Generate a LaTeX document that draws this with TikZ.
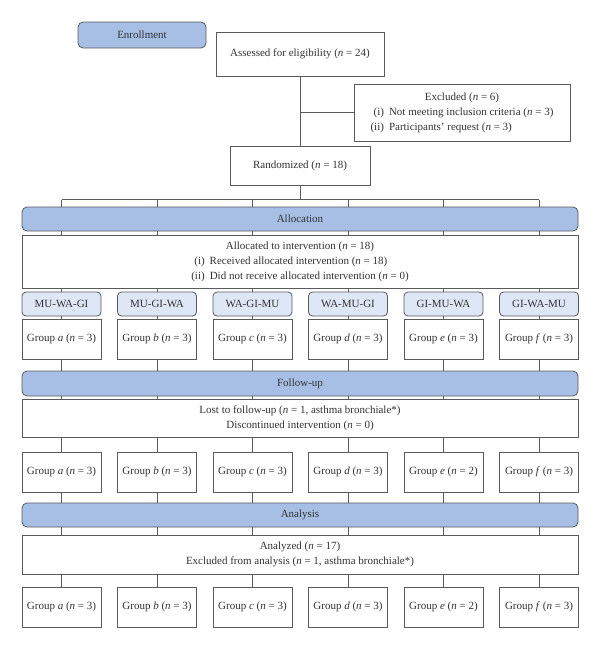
\documentclass[tikz,border=0pt]{standalone}
\usepackage{fontspec}
\setmainfont{Liberation Serif}
\definecolor{barblue}{RGB}{167,191,228}
\definecolor{seqblue}{RGB}{221,231,245}
\definecolor{edge}{RGB}{90,90,90}
\newcommand{\ncount}[1]{(\textit{n} = #1)}
\newcommand{\grp}[2]{Group \textit{#1} \ncount{#2}}
\begin{document}
\begin{tikzpicture}[x=1pt, y=-1pt, font=\fontsize{11}{15.3}\selectfont, text=black!80,
  box/.style={draw=edge, fill=white, line width=.8pt, inner sep=0pt, align=center},
  bar/.style={box, fill=barblue, rounded corners=5pt, minimum width=556pt, minimum height=24pt},
  seqbox/.style={box, fill=seqblue, rounded corners=4pt, minimum width=79pt, minimum height=24pt},
  grpbox/.style={box, minimum width=79pt, minimum height=40pt},
  wide/.style={box, minimum width=556pt},
  link/.style={draw=edge, line width=.8pt}]
\useasboundingbox (0,0) rectangle (600,648);
\node[bar, minimum width=128pt, minimum height=26pt] (enrol) at (142,35) {Enrollment};
\node[box, minimum width=168pt, minimum height=44pt] (assess) at (300,54) {Assessed for eligibility \ncount{24}};
\node[box, minimum width=216pt, minimum height=57pt] (excl) at (462,112.5)
  {\begin{tabular}{@{}r@{\hspace{5pt}}l@{}}\multicolumn{2}{c}{Excluded \ncount{6}}\\
   (i) & Not meeting inclusion criteria \ncount{3}\\
   (ii) & Participants' request \ncount{3}\end{tabular}};
\node[box, minimum width=140pt, minimum height=39pt] (rand) at (300,165.5) {Randomized \ncount{18}};
\node[bar, minimum height=24pt] (alloc) at (300,219) {Allocation};
\node[wide, minimum height=53pt] (allot) at (300,261.5)
  {\begin{tabular}{@{}r@{\hspace{5pt}}l@{}}\multicolumn{2}{c}{Allocated to intervention \ncount{18}}\\
   (i) & Received allocated intervention \ncount{18}\\
   (ii) & Did not receive allocated intervention \ncount{0}\end{tabular}};
\node[bar, minimum height=25pt] (follow) at (300,383.5) {Follow-up};
\node[wide, minimum height=38pt] (lost) at (300,418)
  {Lost to follow-up (\textit{n} = 1, asthma bronchiale*)\\ Discontinued intervention \ncount{0}};
\node[bar, minimum height=24pt] (anal) at (300,515) {Analysis};
\node[wide, minimum height=39pt] (analyzed) at (300,554.5)
  {Analyzed \ncount{17}\\ Excluded from analysis (\textit{n} = 1, asthma bronchiale*)};
\foreach \i/\s/\g/\na/\nb in {1/MU-WA-GI/a/3/3, 2/MU-GI-WA/b/3/3, 3/WA-GI-MU/c/3/3,
    4/WA-MU-GI/d/3/3, 5/GI-MU-WA/e/3/2, 6/GI-WA-MU/f/3/3}{
  \pgfmathsetmacro\cx{61.5+95.5*(\i-1)}
  \coordinate (top\i) at (\cx,199.5);
  \node[seqbox] (seq\i) at (\cx,304) {\s};
  \node[grpbox] (alc\i) at (\cx,339) {\grp{\g}{\na}};
  \node[grpbox] (fol\i) at (\cx,472) {\grp{\g}{\nb}};
  \node[grpbox] (ana\i) at (\cx,607) {\grp{\g}{\nb}};
}
\coordinate (exj) at (assess.south |- excl.west);
\draw[link] (assess) -- (rand);
\draw[link] (exj) -- (excl.west);
\draw[link] (rand.south) -- (rand.south |- top1);
\draw[link] (top1) -- (top6);
\foreach \i in {1,...,6}{
  \draw[link] (top\i) -- (top\i |- alloc.north);
  \draw[link] (seq\i |- alloc.south) -- (seq\i |- allot.north);
  \draw[link] (seq\i |- allot.south) -- (seq\i.north);
  \draw[link] (seq\i) -- (alc\i);
  \draw[link] (alc\i) -- (alc\i |- follow.north);
  \draw[link] (alc\i |- follow.south) -- (alc\i |- lost.north);
  \draw[link] (alc\i |- lost.south) -- (fol\i);
  \draw[link] (fol\i) -- (fol\i |- anal.north);
  \draw[link] (fol\i |- anal.south) -- (fol\i |- analyzed.north);
  \draw[link] (fol\i |- analyzed.south) -- (ana\i);
}
\end{tikzpicture}
\end{document}
